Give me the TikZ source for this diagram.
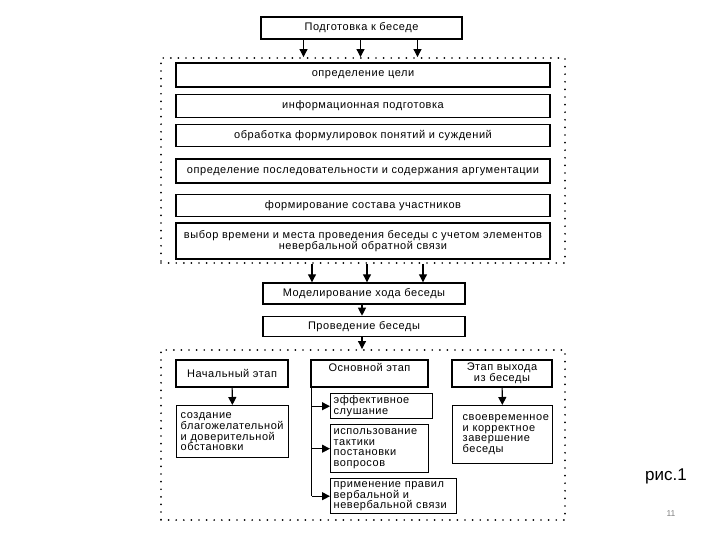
\documentclass[tikz,border=0pt]{standalone}
\usepackage{fontspec}
\setmainfont{Liberation Sans}
\newfontfamily\boxfont[LetterSpace=5]{Liberation Sans}
\usetikzlibrary{arrows.meta,positioning,calc}

\begin{document}
\begin{tikzpicture}[x=1pt, y=-1pt,
  box/.style={draw, line width=1.4pt, inner sep=2pt,
              font=\boxfont\fontsize{11}{10.8}\selectfont},
  item/.style={box, minimum width=374pt, align=center},
  stage/.style={box, minimum width=#1, minimum height=27pt, align=center},
  note/.style={box, align=left, anchor=north west},
  frame/.style={draw, line width=1.9pt, line cap=round,
                dash pattern=on 0pt off 7.6pt, inner sep=0pt},
  arr/.style={-{Triangle[length=8pt,width=8pt]}, line width=1.1pt}
]
  \useasboundingbox (0,0) rectangle (720,540);

  % preparation
  \node[box, minimum width=201pt, minimum height=22pt] (prep) at (361.5,28) {Подготовка к беседе};
  \node[frame, minimum width=404pt, minimum height=205pt] (plan) at (363,160.5) {};

  \node[item, minimum height=24pt] (goal) at (363,75) {определение цели};
  \node[item, minimum height=23pt, below=6pt of goal] (info) {информационная подготовка};
  \node[item, minimum height=22pt, below=6pt of info] (form) {обработка формулировок понятий и суждений};
  \node[item, minimum height=24pt, below=11pt of form] (args) {определение последовательности и содержания аргументации};
  \node[item, minimum height=22pt, below=10pt of args] (team) {формирование состава участников};
  \node[item, minimum height=36pt, below=5pt of team] (time) {выбор времени и места проведения беседы с учетом элементов\\невербальной обратной связи};

  \foreach \dx in {-58,-1,56}
    \draw[arr] ([xshift=\dx pt]prep.south) -- ([xshift=\dx pt]prep.south |- plan.north);

  % modelling and talk
  \node[box, minimum width=202pt, minimum height=21pt] (model) at (364,293.5) {Моделирование хода беседы};
  \node[box, minimum width=202pt, minimum height=20pt, below=11pt of model] (talk) {Проведение беседы};
  \node[frame, minimum width=404pt, minimum height=170pt] (run) at (363,435) {};

  \foreach \dx in {-51,4,60}
    \draw[arr] ([xshift=\dx pt]plan.south) -- ([xshift=\dx pt]plan.south |- model.north);
  \draw[arr] ([xshift=-2pt]model.south) -- ([xshift=-2pt]talk.north);
  \draw[arr] ([xshift=-2pt]talk.south) -- ([xshift=-2pt]talk.south |- run.north);

  % stages
  \node[stage=112pt] (start) at (232,373.5) {Начальный этап};
  \node[stage=117pt, text depth=12pt] (main) at (369.5,373.5) {Основной этап};
  \node[stage=100pt] (exit) at (502,373.5) {Этап выхода\\из беседы};

  \node[note, text width=104pt, inner xsep=4pt, minimum height=52pt] (mood) at (176,405) {создание\\благожелательной\\и доверительной\\обстановки};
  \node[note, text width=96pt, inner xsep=3pt, minimum height=25pt] (listen) at (330,393) {эффективное\\слушание};
  \node[note, text width=92pt, inner xsep=3pt, minimum height=48pt] (ask) at (330,424) {использование\\тактики\\постановки\\вопросов};
  \node[note, text width=120pt, inner xsep=3pt, minimum height=35pt] (rules) at (330,478) {применение правил\\вербальной и\\невербальной связи};
  \node[note, text width=80pt, inner xsep=10pt, minimum height=58pt] (close) at (452,405) {своевременное\\и корректное\\завершение\\беседы};

  \draw[arr] (start) -- (mood);
  \draw[arr] (exit) -- (close);
  \coordinate (trunk) at ([xshift=1.5pt]main.south west);
  \draw[line width=1.1pt] (trunk) -- (trunk |- rules.west);
  \foreach \n in {listen,ask,rules}
    \draw[arr] (trunk |- \n.west) -- (\n.west);

  % caption
  \node[font=\fontsize{17}{20}\selectfont] (fig) at (666,476) {рис.1};
  \node[font=\fontsize{8.5}{10}\selectfont, text=gray] (page) at (671,514) {11};
\end{tikzpicture}
\end{document}
